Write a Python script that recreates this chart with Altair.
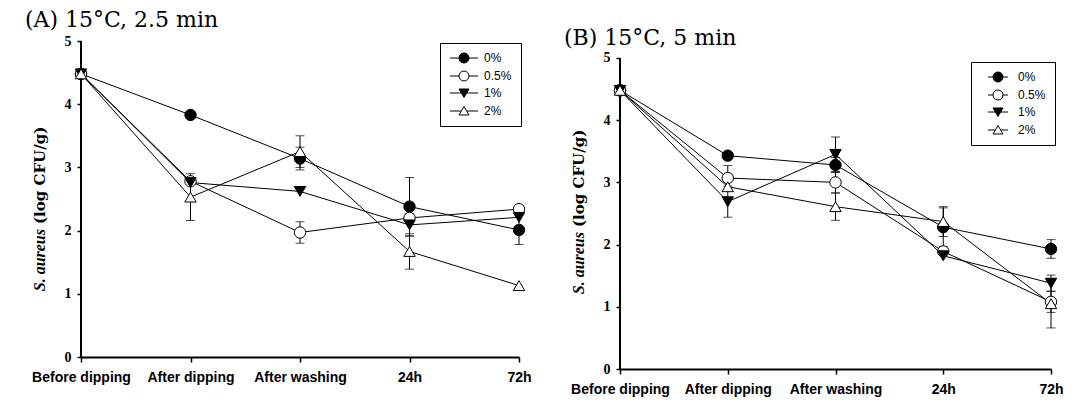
import altair as alt
import pandas as pd

stages = ["Before dipping", "After dipping", "After washing", "24h", "72h"]
series = ["0%", "0.5%", "1%", "2%"]

# Panel A: 15°C, 2.5 min
a_0 = [4.48, 3.83, 3.14, 2.38, 2.01]
a_05 = [4.48, 2.78, 1.97, 2.20, 2.34]
a_1 = [4.48, 2.76, 2.62, 2.09, 2.21]
a_2 = [4.48, 2.53, 3.25, 1.67, 1.13]
a_0_err = [0.04, 0.0, 0.18, 0.46, 0.23]
a_05_err = [0.04, 0.0, 0.17, 0.0, 0.0]
a_1_err = [0.04, 0.0, 0.0, 0.18, 0.0]
a_2_err = [0.04, 0.37, 0.25, 0.28, 0.0]

# Panel B: 15°C, 5 min
b_0 = [4.48, 3.43, 3.28, 2.28, 1.93]
b_05 = [4.48, 3.07, 3.00, 1.89, 1.08]
b_1 = [4.48, 2.69, 3.45, 1.82, 1.38]
b_2 = [4.48, 2.93, 2.61, 2.37, 1.05]
b_0_err = [0.04, 0.0, 0.12, 0.31, 0.15]
b_05_err = [0.04, 0.20, 0.17, 0.0, 0.17]
b_1_err = [0.04, 0.25, 0.28, 0.0, 0.13]
b_2_err = [0.04, 0.0, 0.22, 0.24, 0.39]

y_ticks = [0, 1, 2, 3, 4, 5]
fills = ["black", "white", "black", "white"]


def frame(vals, errs):
    rows = []
    for s, v, e in zip(series, vals, errs):
        for st, vv, ee in zip(stages, v, e):
            rows.append({"stage": st, "series": s, "value": vv, "err": ee})
    return pd.DataFrame(rows)


def legend_paths(half):
    h = f"{half}"
    return [
        f"M-{h},0H{h}M-1,0A1,1 0 1,1 1,0A1,1 0 1,1 -1,0Z",
        f"M-{h},0H-1M1,0H{h}M-1,0A1,1 0 1,1 1,0A1,1 0 1,1 -1,0Z",
        f"M-{h},0H{h}M-1,-0.8L1,-0.8L0,0.9Z",
        f"M-{h},0H-0.55M0.55,0H{h}M-1,0.8L1,0.8L0,-0.9Z",
    ]


def panel(df, title, w, h, ymax, title_y, leg_x, leg_y, leg_half,
          sym_off, lab_off, split):
    base = alt.Chart(df)
    x = alt.X("stage:N", sort=stages,
              scale=alt.Scale(type="point", padding=0, domain=stages),
              axis=alt.Axis(title=None, labelAngle=0, labelFont="Liberation Sans",
                            labelFontWeight="bold", labelFontSize=14,
                            labelPadding=8, tickSize=5, domainWidth=2,
                            tickWidth=1.5, grid=False))
    y = alt.Y("value:Q", scale=alt.Scale(domain=[0, ymax], nice=False, zero=True),
              axis=alt.Axis(title=None, values=y_ticks, format="d",
                            labelFont="Liberation Serif", labelFontWeight="bold",
                            labelFontSize=14, labelPadding=6, tickSize=4,
                            tickWidth=1.5, domain=False, grid=False))
    tdata = alt.Chart(pd.DataFrame({"k": [0]}))
    yline = tdata.mark_rule(color="black", strokeWidth=2).encode(
        x=alt.value(0), y=alt.datum(y_ticks[0]), y2=alt.datum(y_ticks[-1]))
    lines = base.mark_line(color="black", strokeWidth=1).encode(
        x=x, y=y, detail="series:N")
    eb = base.transform_filter("datum.err > 0").transform_calculate(
        lo="datum.value - datum.err", hi="datum.value + datum.err")
    rule = eb.mark_rule(color="black", strokeWidth=1).encode(
        x=x, y=alt.Y("lo:Q"), y2="hi:Q")
    cap_lo = eb.mark_tick(color="black", thickness=1, size=9).encode(
        x=x, y=alt.Y("lo:Q"))
    cap_hi = eb.mark_tick(color="black", thickness=1, size=9).encode(
        x=x, y=alt.Y("hi:Q"))
    pts = base.mark_point(filled=True, stroke="black", strokeWidth=1,
                          size=130, opacity=1).encode(
        x=x, y=y,
        shape=alt.Shape("series:N", legend=None,
                        scale=alt.Scale(domain=series,
                                        range=["circle", "circle", "triangle-down", "triangle-up"])),
        fill=alt.Fill("series:N", legend=None,
                      scale=alt.Scale(domain=series, range=fills)),
    )
    leg_def = alt.Legend(
        title=None, orient="none", legendX=leg_x, legendY=leg_y,
        strokeColor="black", fillColor="white", padding=9,
        symbolOpacity=1, symbolSize=100, symbolStrokeWidth=1,
        symbolOffset=sym_off, labelOffset=lab_off, rowPadding=4,
        labelFont="Liberation Sans", labelFontSize=12, labelColor="black")
    leg = base.mark_point(filled=True, opacity=0, size=100, strokeWidth=1).encode(
        x=x, y=y,
        shape=alt.Shape("series:N",
                        scale=alt.Scale(domain=series, range=legend_paths(leg_half)),
                        legend=leg_def),
        fill=alt.Fill("series:N", scale=alt.Scale(domain=series, range=fills),
                      legend=leg_def),
        stroke=alt.Stroke("series:N",
                          scale=alt.Scale(domain=series, range=["black"] * 4),
                          legend=leg_def),
    )
    t1 = tdata.mark_text(angle=270, align="right", baseline="middle",
                         font="Liberation Serif", fontStyle="italic",
                         fontWeight="bold", fontSize=16, color="black").encode(
        x=alt.value(-41), y=alt.value(split + 3), text=alt.value("S. aureus"))
    t2 = tdata.mark_text(angle=270, align="left", baseline="middle",
                         font="DejaVu Serif", fontWeight="bold", fontSize=15,
                         color="black").encode(
        x=alt.value(-41), y=alt.value(split - 2), text=alt.value("(log CFU/g)"))
    ttl = tdata.mark_text(align="left", baseline="alphabetic",
                          font="DejaVu Serif", fontSize=22, color="black").encode(
        x=alt.value(-56), y=alt.value(title_y), text=alt.value(title))
    return alt.layer(yline, lines, rule, cap_lo, cap_hi, pts, leg, t1, t2, ttl
                     ).resolve_scale(shape="independent", fill="independent",
                                     stroke="independent"
                                     ).properties(width=w, height=h)


dfA = frame([a_0, a_05, a_1, a_2], [a_0_err, a_05_err, a_1_err, a_2_err])
dfB = frame([b_0, b_05, b_1, b_2], [b_0_err, b_05_err, b_1_err, b_2_err])

A = panel(dfA, "(A) 15°C, 2.5 min", 438, 316, 5.0, -14, 359, 2, 2.8, 9, 14, 185)
B = panel(dfB, "(B) 15°C, 5 min", 431, 328, 5.273, 4, 351, 21, 2.0, 12, 14, 188)

chart = alt.hconcat(A, B, spacing=31).properties(
    padding={"left": 17, "top": 1, "right": 0, "bottom": 10}
).configure_view(stroke=None).configure_axis(
    domainColor="black", tickColor="black", labelColor="black")

chart.save("out.html", embed_options={"renderer": "svg", "actions": False})
